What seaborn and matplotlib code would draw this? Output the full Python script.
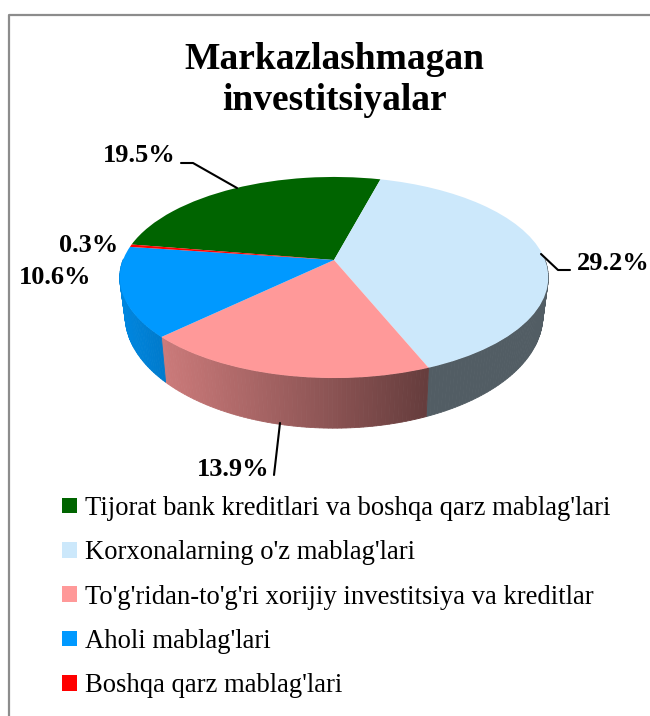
import numpy as np
import matplotlib
matplotlib.use("Agg")
import matplotlib.pyplot as plt
import seaborn as sns
from matplotlib.patches import Patch
from matplotlib.transforms import Transform

categories = ["Tijorat bank kreditlari va boshqa qarz mablag'lari",
              "Korxonalarning o'z mablag'lari",
              "To'g'ridan-to'g'ri xorijiy investitsiya va kreditlar",
              "Aholi mablag'lari",
              "Boshqa qarz mablag'lari"]
values = [19.5, 29.2, 13.9, 10.6, 0.3]
slice_colors = ["#006400", "#CCE8FB", "#FF9999", "#0099FF", "#FF0000"]
title_text = "Markazlashmagan\ninvestitsiyalar"

sns.set_theme(style="white")
plt.rcParams["font.family"] = ["Liberation Serif", "DejaVu Serif"]

# pixel geometry of the tilted pie (apex, perspective)
CX, CY = 334, 260
A, B, K = 211, 97.5, 0.174


def project(x, y):
    w = 1 + K * y
    return CX + A * x / w, CY - B * y / w


def drop(px, py):
    # top rim -> bottom rim of the wall
    return CX + 0.975 * (px - CX), py + 38 + 0.12 * (py - 277)


class Tilt(Transform):
    input_dims = output_dims = 2

    def transform_non_affine(self, xy):
        xy = np.asarray(xy)
        return np.column_stack(project(xy[:, 0], xy[:, 1]))


fig = plt.figure(figsize=(6.5, 7.16), dpi=100)
ax = fig.add_axes([0, 0, 1, 1])

wedges, _ = ax.pie(values, colors=sns.color_palette(slice_colors), startangle=170.6,
                   counterclock=False, wedgeprops={"linewidth": 0})
ax.set_aspect("auto")
ax.set_xlim(0, 650)
ax.set_ylim(716, 0)
ax.axis("off")

for w in wedges:
    w.set_transform(Tilt() + ax.transData)
    w.set_zorder(3)

# side wall, shaded from left to right
for w, col in zip(wedges, slice_colors):
    base = np.array(matplotlib.colors.to_rgb(col))
    th = np.radians(np.linspace(w.theta1, w.theta2, max(int(w.theta2 - w.theta1), 2)))
    tx, ty = project(np.cos(th), np.sin(th))
    bx, by = drop(tx, ty)
    for i in range(len(th) - 1):
        if np.sin(th[i]) > 0 and np.sin(th[i + 1]) > 0:
            continue
        shade = np.interp(tx[i], [120, 160, 425, 548], [0.88, 0.8, 0.4, 0.4])
        c = base * shade
        ax.fill([tx[i], tx[i + 1], bx[i + 1], bx[i]], [ty[i], ty[i + 1], by[i + 1], by[i]],
                color=c, lw=0.6, zorder=2)

# outer frame, only left and top show up
ax.plot([9, 9, 660], [730, 15, 15], color="#8c8c8c", lw=1.6, zorder=1)

ax.text(334, 80, title_text, ha="center", va="center", fontsize=27, fontweight="bold",
        color="black", linespacing=1.25)

# data labels
label_x = [139, 613, 233, 55, 89]
label_y = [156, 264, 470, 277, 245]
for v, lx, ly in zip(values, label_x, label_y):
    ax.text(lx, ly, f"{v}%", ha="center", va="center", fontsize=19, fontweight="bold", color="black")

ax.plot([181, 193, 237], [163, 163, 188], color="black", lw=1.5, zorder=4)
ax.plot([541, 558, 570], [254, 270, 270], color="black", lw=1.5, zorder=4)
ax.plot([280, 274], [423, 475], color="black", lw=1.5, zorder=4)

handles = [Patch(facecolor=c, edgecolor="none") for c in slice_colors]
ax.legend(handles, categories, loc="upper left", bbox_to_anchor=(54.5, 488), bbox_transform=ax.transData,
          frameon=False, fontsize=19.15, labelcolor="black", labelspacing=0.728, handlelength=0.53,
          handleheight=0.53, handletextpad=0.3, borderpad=0.3, borderaxespad=0)

fig.savefig("out.png", dpi=100, facecolor="white")
